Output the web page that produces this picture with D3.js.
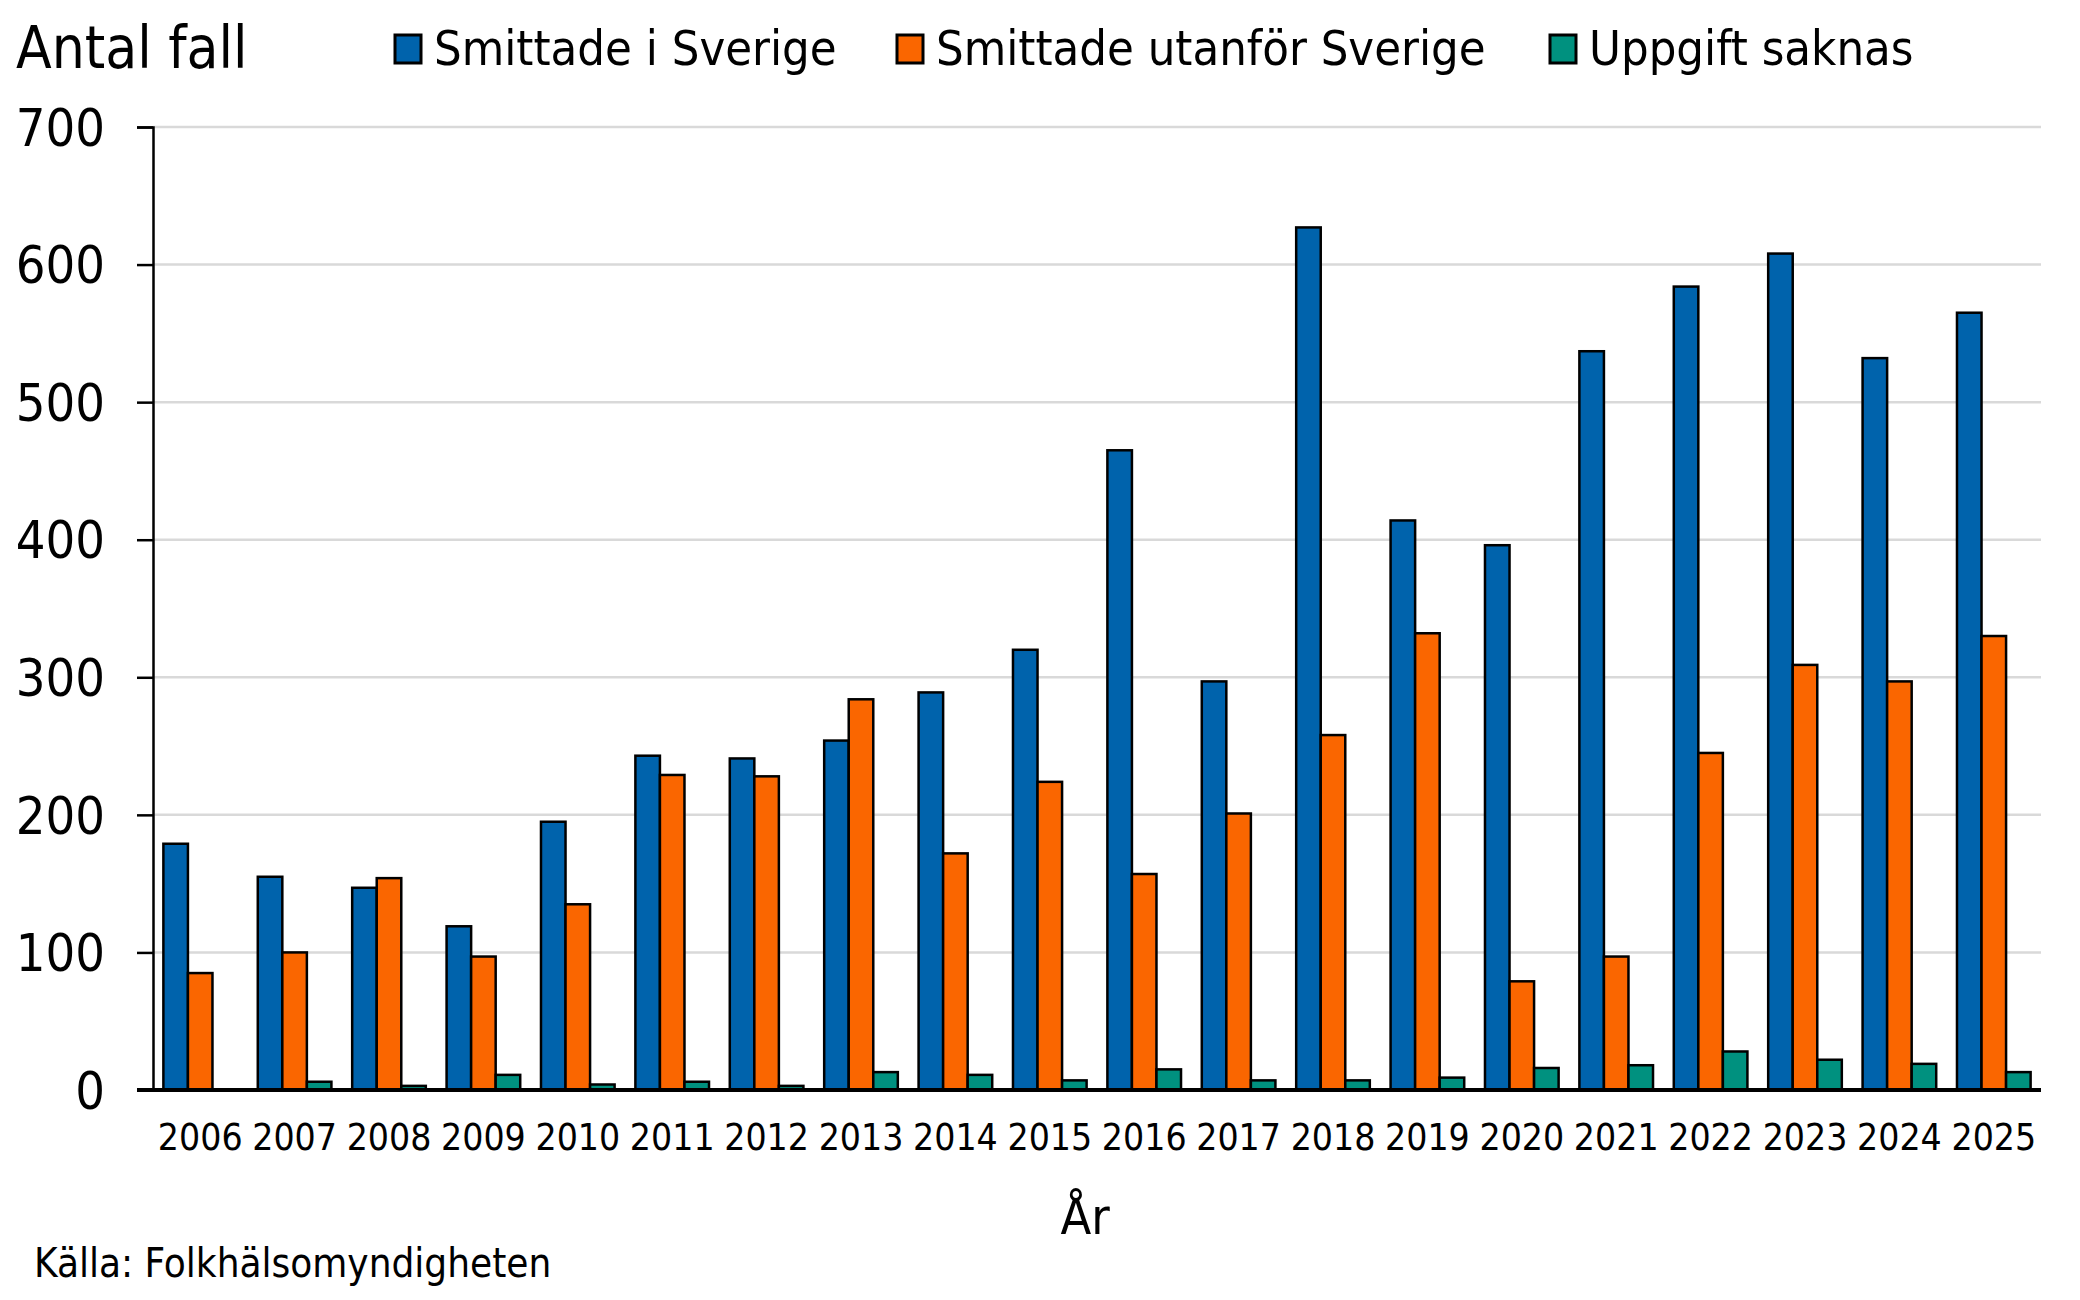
<!DOCTYPE html>
<html>
<head>
<meta charset="utf-8">
<script src="https://cdn.jsdelivr.net/npm/d3@7"></script>
<style>
  body { margin: 0; background: #fff; }
  svg text { font-family: "DejaVu Sans Condensed", "DejaVu Sans", sans-serif; font-stretch: condensed; fill: #000; }
</style>
</head>
<body>
<svg width="2080" height="1300"></svg>
<script>
const years = ["2006","2007","2008","2009","2010","2011","2012","2013","2014","2015",
               "2016","2017","2018","2019","2020","2021","2022","2023","2024","2025"];
const seriesNames = ["Smittade i Sverige", "Smittade utanför Sverige", "Uppgift saknas"];
const inSweden  = [179,155,147,119,195,243,241,254,289,320,465,297,627,414,396,537,584,608,532,565];
const abroad    = [85,100,154,97,135,229,228,284,172,224,157,201,258,332,79,97,245,309,297,330];
const unknown   = [0,6,3,11,4,6,3,13,11,7,15,7,7,9,16,18,28,22,19,13];
const yTicks = [0,100,200,300,400,500,600,700];
const colors = ["#0063AC", "#FA6600", "#00917F"];

const svg = d3.select("svg");
const plot = { left: 153, right: 2041, top: 127, bottom: 1090 };

// rader per år
const rows = years.map((y, i) => ({ year: y, values: [inSweden[i], abroad[i], unknown[i]] }));

const x0 = d3.scaleBand().domain(years).range([plot.left, plot.right]).paddingInner(0.22).paddingOuter(0.11);
const x1 = d3.scaleBand().domain([0,1,2]).range([0, x0.bandwidth()]);
const y = d3.scaleLinear().domain([0, 700]).range([plot.bottom, plot.top]);

// rutnät
svg.append("g")
  .selectAll("line")
  .data(yTicks.filter(d => d > 0))
  .enter().append("line")
  .attr("x1", plot.left).attr("x2", plot.right)
  .attr("y1", d => y(d)).attr("y2", d => y(d))
  .attr("stroke", "#D9D9D9").attr("stroke-width", 2.5);

// staplar
const groups = svg.append("g")
  .selectAll("g")
  .data(rows)
  .enter().append("g")
  .attr("transform", d => `translate(${x0(d.year)},0)`);

groups.selectAll("rect")
  .data(d => d.values.map((v, k) => ({ k, v })).filter(d => d.v > 0))
  .enter().append("rect")
  .attr("x", d => x1(d.k))
  .attr("y", d => y(d.v))
  .attr("width", x1.bandwidth())
  .attr("height", d => plot.bottom - y(d.v))
  .attr("fill", d => colors[d.k])
  .attr("stroke", "#000").attr("stroke-width", 2.5);

// y-axel
const yAxis = svg.append("g")
  .attr("transform", `translate(${plot.left},0)`)
  .call(d3.axisLeft(y).tickValues(yTicks).tickSize(16).tickPadding(32));
yAxis.select(".domain").attr("stroke", "#000").attr("stroke-width", 2.5);
yAxis.selectAll(".tick line").attr("stroke", "#000").attr("stroke-width", 2.5);
yAxis.selectAll("text").attr("font-size", 52).attr("dy", "0.35em");

// x-axel
const xAxis = svg.append("g")
  .attr("transform", `translate(0,${plot.bottom})`)
  .call(d3.axisBottom(x0).tickSize(0).tickPadding(34));
xAxis.select(".domain").remove();
xAxis.selectAll("text").attr("font-size", 37);
svg.append("line")
  .attr("x1", plot.left - 16).attr("x2", plot.right)
  .attr("y1", plot.bottom).attr("y2", plot.bottom)
  .attr("stroke", "#000").attr("stroke-width", 4);

// titlar
svg.append("text").attr("x", 16).attr("y", 68).attr("font-size", 58).text("Antal fall");
svg.append("text").attr("x", 1085).attr("y", 1234).attr("text-anchor", "middle").attr("font-size", 50).text("År");
svg.append("text").attr("x", 34).attr("y", 1277).attr("font-size", 40).text("Källa: Folkhälsomyndigheten");

// legend
const legendX = [395, 897, 1550];
const legend = svg.append("g")
  .selectAll("g")
  .data(seriesNames)
  .enter().append("g")
  .attr("transform", (d, i) => `translate(${legendX[i]},0)`);
legend.append("rect")
  .attr("x", 0).attr("y", 35).attr("width", 26).attr("height", 28)
  .attr("fill", (d, i) => colors[i])
  .attr("stroke", "#000").attr("stroke-width", 3);
legend.append("text")
  .attr("x", 39).attr("y", 65)
  .attr("font-size", 48.5)
  .text(d => d);
</script>
</body>
</html>
